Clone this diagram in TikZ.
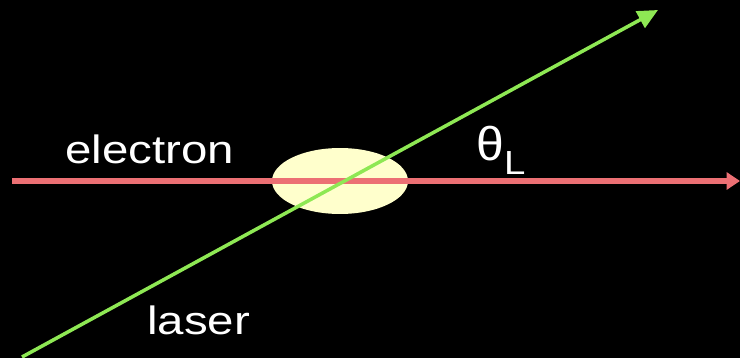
\documentclass[tikz,border=0pt]{standalone}
\usepackage{fontspec}
\setmainfont{Liberation Sans}
\usepackage{graphicx}
\usetikzlibrary{arrows.meta, shapes.geometric}

\definecolor{beamred}{RGB}{236,112,116}
\definecolor{lasergreen}{RGB}{142,232,84}
\definecolor{spotyellow}{RGB}{255,255,204}

\begin{document}
\begin{tikzpicture}[
    x=0.02cm, y=-0.02cm,
    lbl/.style={text=white, inner sep=0pt, anchor=base west,
      font=\fontsize{22.5}{26}\selectfont},
    spot/.style={ellipse, fill=spotyellow, minimum width=2.72cm,
      minimum height=1.32cm, inner sep=0pt},
    ebeam/.style={beamred, line width=3pt,
      -{Triangle[length=7.6pt, width=9.6pt]}},
    lbeam/.style={lasergreen, line width=2pt,
      -{Triangle[length=11.5pt, width=10.5pt]}}
  ]
    \fill[black] (0,0) rectangle (740,358);
    \useasboundingbox (0,0) rectangle (740,358);
    \node[spot] (ip) at (340,181) {};
    \coordinate (ein) at (12,181);
    \coordinate (eout) at (740,181);
    \coordinate (lin) at (22,357);
    \coordinate (lout) at (658,10);
    \draw[ebeam] (ein) -- (eout);
    \draw[lbeam] (lin) -- (lout);
    \node[lbl] (elabel) at (65,163) {\scalebox{1.2}[1]{electron}};
    \node[lbl] (llabel) at (147,334) {\scalebox{1.2}[1]{laser}};
    \node[lbl] (angle) at (476,160)
      {\scalebox{1.05}[1]{\fontsize{27}{30}\selectfont θ}%
       \raisebox{-8pt}{\scalebox{1.15}[1]{\fontsize{19}{21}\selectfont L}}};
  \end{tikzpicture}
\end{document}
